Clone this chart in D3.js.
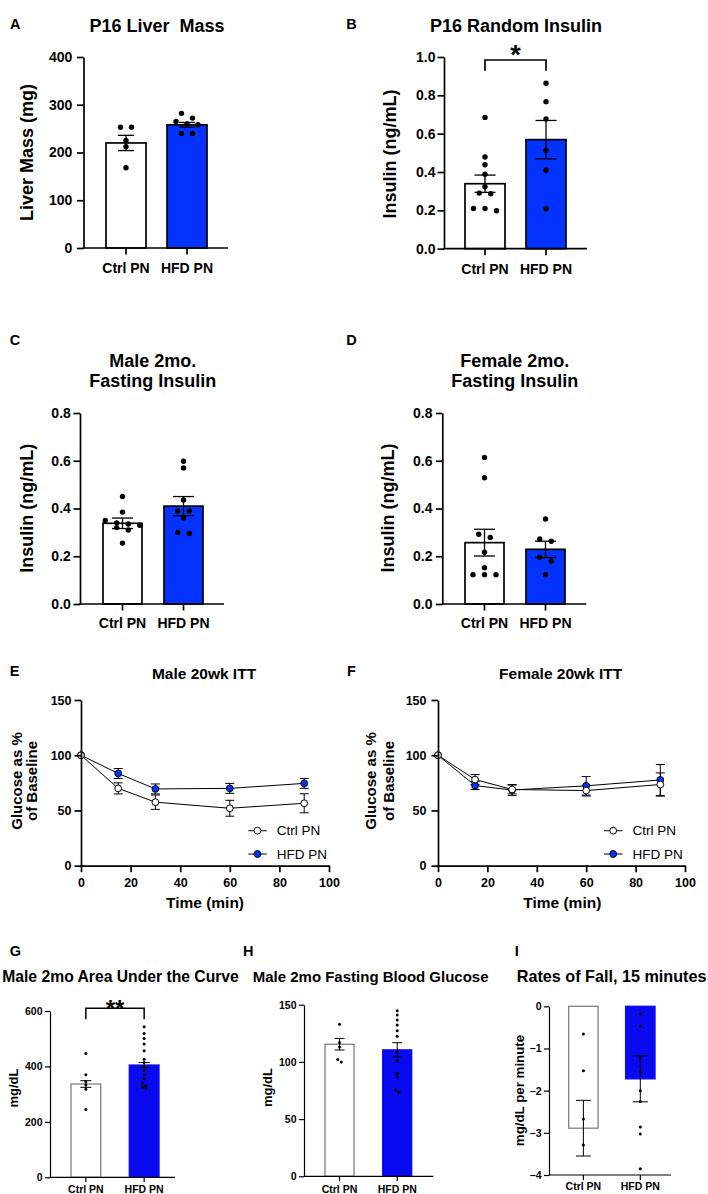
<!DOCTYPE html>
<html><head><meta charset="utf-8">
<script src="https://cdn.jsdelivr.net/npm/d3@7"></script>
<style>body{margin:0;background:#fff} svg text{font-family:"Liberation Sans",Arial,Helvetica,sans-serif;fill:#000}</style>
</head><body><svg id="fig" width="708" height="1194"></svg>
<script>
const groups = ["Ctrl PN", "HFD PN"];

// A: P16 liver mass
const liverTicks = [0, 100, 200, 300, 400];
const liverMean = [220, 258];
const liverSem = [16, 5];
const liverCtrl = [253, 253, 225, 212, 168];
const liverHfd = [282, 272, 265, 260, 258, 240, 240];

// B: P16 random insulin
const p16InsTicks = [0, 0.2, 0.4, 0.6, 0.8, 1.0];
const p16InsMean = [0.339, 0.569];
const p16InsSem = [0.045, 0.1];
const p16InsCtrl = [0.685, 0.478, 0.438, 0.388, 0.323, 0.29, 0.287, 0.21, 0.21, 0.198];
const p16InsHfd = [0.863, 0.767, 0.677, 0.513, 0.409, 0.209];

// C: male 2mo fasting insulin
const fastInsTicks = [0, 0.2, 0.4, 0.6, 0.8];
const maleInsMean = [0.338, 0.41];
const maleInsSem = [0.022, 0.04];
const maleInsCtrl = [0.45, 0.385, 0.35, 0.34, 0.335, 0.33, 0.32, 0.31, 0.255];
const maleInsHfd = [0.598, 0.57, 0.436, 0.39, 0.39, 0.36, 0.30, 0.295];

// D: female 2mo fasting insulin
const femInsMean = [0.257, 0.229];
const femInsSem = [0.056, 0.034];
const femInsCtrl = [0.614, 0.529, 0.292, 0.279, 0.217, 0.152, 0.123, 0.123, 0.123];
const femInsHfd = [0.356, 0.272, 0.263, 0.196, 0.18, 0.123];

// E/F: 20wk ITT
const ittTime = [0, 15, 30, 60, 90];
const ittXTicks = [0, 20, 40, 60, 80, 100];
const ittYTicks = [0, 50, 100, 150];
const maleIttCtrl = [100, 70, 57.5, 52, 56.5];
const maleIttCtrlSem = [0, 5, 6.5, 7.2, 8.6];
const maleIttHfd = [100, 83.5, 69.5, 70, 74.5];
const maleIttHfdSem = [0, 4.5, 4.5, 4.5, 4.5];
const femIttCtrl = [100, 78, 69, 68, 73.5];
const femIttCtrlSem = [0, 4.5, 4, 4.9, 10.5];
const femIttHfd = [100, 72.5, 68.5, 72.3, 77.6];
const femIttHfdSem = [0, 3.5, 5, 8.4, 14];

// G: male 2mo AUC
const aucTicks = [0, 200, 400, 600];
const aucMean = [336.6, 405];
const aucSem = [12, 9];
const aucCtrl = [447, 370, 345, 333, 318, 245];
const aucHfd = [543, 519, 501, 481, 457, 426, 414, 399, 385, 370, 356, 339, 330, 325, 321];

// H: male 2mo fasting blood glucose
const fbgTicks = [0, 50, 100, 150];
const fbgMean = [115.4, 110.5];
const fbgSem = [5, 6.3];
const fbgCtrl = [133, 117, 113, 102, 100];
const fbgHfd = [144.7, 141, 136.6, 132.2, 127.3, 122.4, 109, 101, 90, 87, 75.4, 73.4];

// I: rates of fall, 15 minutes
const rofTicks = [-4, -3, -2, -1, 0];
const rofMean = [-2.89, -1.72];
const rofSem = [0.66, 0.545];
const rofCtrl = [-0.656, -1.53, -2.67, -3.29];
const rofHfd = [-0.18, -0.47, -1.23, -1.55, -2.0, -2.26, -2.86, -3.03, -3.85];

const BLUE = "#0433ff";
const BLUE2 = "#0a0af0";

const svg = d3.select("#fig");
svg.append("rect").attr("width", 708).attr("height", 1194).attr("fill", "#fff");

function text(x, y, s, size, opt = {}) {
  const t = svg.append("text").attr("x", x).attr("y", y).text(s)
    .attr("font-size", size).attr("font-weight", opt.weight || "bold")
    .attr("text-anchor", opt.anchor || "middle")
    .style("white-space", "pre");
  return t;
}
function vtext(x, y, s, size) {
  return svg.append("text").attr("transform", `translate(${x},${y}) rotate(-90)`)
    .text(s).attr("font-size", size).attr("font-weight", "bold").attr("text-anchor", "middle");
}

function swarm(vals, y, r, spacing) {
  const pts = vals.map(v => ({ v, py: y(v) })).sort((a, b) => a.py - b.py);
  const rows = [];
  pts.forEach(p => {
    const last = rows[rows.length - 1];
    if (last && p.py - last[0].py < 2 * r * 1.02) last.push(p); else rows.push([p]);
  });
  rows.forEach(row => row.forEach((p, i) => p.dx = (i - (row.length - 1) / 2) * spacing));
  return pts;
}

function barPanel(o) {
  const g = svg.append("g");
  const y = d3.scaleLinear().domain([o.ticks[0], o.ticks[o.ticks.length - 1]]).range([o.yBottom, o.yTop]);
  const step = o.barRange[1] - o.barRange[0] - o.bw;
  const x = d3.scaleBand().domain(groups).range(o.barRange).paddingInner(1 - o.bw / step).paddingOuter(0);
  const cx = i => x(groups[i]) + x.bandwidth() / 2;
  o.means.forEach((m, i) => {
    const a = y(0), b = y(m);
    g.append("rect").attr("x", x(groups[i])).attr("y", Math.min(a, b))
      .attr("width", x.bandwidth()).attr("height", Math.abs(a - b))
      .attr("fill", i ? o.blue : "#fff")
      .attr("stroke", i ? o.hfdStroke : o.ctrlStroke).attr("stroke-width", o.barSW);
  });
  [o.ctrl, o.hfd].forEach((vals, i) => {
    swarm(vals, y, o.r, o.spacing).forEach(p =>
      g.append("circle").attr("cx", cx(i) + p.dx).attr("cy", p.py).attr("r", o.r).attr("fill", "#000"));
  });
  o.means.forEach((m, i) => {
    const hi = y(m + o.sems[i]), lo = y(m - o.sems[i]);
    g.append("line").attr("x1", cx(i)).attr("x2", cx(i)).attr("y1", hi).attr("y2", lo)
      .attr("stroke", "#000").attr("stroke-width", o.errSW);
    [hi, lo].forEach(yy => g.append("line").attr("x1", cx(i) - o.cap / 2).attr("x2", cx(i) + o.cap / 2)
      .attr("y1", yy).attr("y2", yy).attr("stroke", "#000").attr("stroke-width", o.errSW));
  });
  // y axis
  const ya = g.append("g").attr("transform", `translate(${o.axisX},0)`)
    .call(d3.axisLeft(y).tickValues(o.ticks).tickSize(o.tick).tickSizeOuter(0).tickPadding(o.yPad).tickFormat(o.fmt));
  ya.selectAll("path,line").attr("stroke", "#000").attr("stroke-width", o.axisSW);
  ya.selectAll("text").attr("font-size", o.tickFont).attr("font-weight", "bold").attr("fill", "#000")
    .attr("font-family", '"Liberation Sans",Arial,sans-serif');
  // x axis
  const xa = g.append("g").attr("transform", `translate(0,${o.yBottom})`)
    .call(d3.axisBottom(x).tickSize(o.tick).tickSizeOuter(0).tickPadding(o.xPad));
  xa.select(".domain").remove();
  xa.selectAll("line").attr("stroke", "#000").attr("stroke-width", o.axisSW);
  xa.selectAll("text").attr("font-size", o.xFont).attr("font-weight", "bold").attr("fill", "#000")
    .attr("font-family", '"Liberation Sans",Arial,sans-serif');
  g.append("line").attr("x1", o.axisX - o.axisSW / 2).attr("x2", o.axisEnd).attr("y1", o.yBottom).attr("y2", o.yBottom)
    .attr("stroke", "#000").attr("stroke-width", o.axisSW);
  if (o.sig) {
    const yb = o.sig.y, yd = o.sig.y + o.sig.drop;
    g.append("path").attr("d", `M${cx(0)},${yd}V${yb}H${cx(1)}V${yd}`)
      .attr("fill", "none").attr("stroke", "#000").attr("stroke-width", o.sig.sw);
    g.append("text").attr("x", (cx(0) + cx(1)) / 2).attr("y", o.sig.ty).attr("text-anchor", "middle")
      .attr("font-size", o.sig.size).attr("font-weight", "bold").text(o.sig.label);
  }
}

function linePanel(o) {
  const g = svg.append("g");
  const x = d3.scaleLinear().domain([0, 100]).range([o.axisX, o.axisEnd]);
  const y = d3.scaleLinear().domain([0, 150]).range([o.yBottom, o.yTop]);
  const series = [
    { v: o.hfd, s: o.hfdSem, fill: BLUE },
    { v: o.ctrl, s: o.ctrlSem, fill: "#fff" }
  ];
  series.forEach(se => {
    ittTime.forEach((t, i) => {
      if (!se.s[i]) return;
      const hi = y(se.v[i] + se.s[i]), lo = y(se.v[i] - se.s[i]);
      g.append("line").attr("x1", x(t)).attr("x2", x(t)).attr("y1", hi).attr("y2", lo).attr("stroke", "#000").attr("stroke-width", 1);
      [hi, lo].forEach(yy => g.append("line").attr("x1", x(t) - 4.5).attr("x2", x(t) + 4.5).attr("y1", yy).attr("y2", yy)
        .attr("stroke", "#000").attr("stroke-width", 1));
    });
  });
  const line = d3.line().x((d, i) => x(ittTime[i])).y(d => y(d));
  series.forEach(se => g.append("path").attr("d", line(se.v)).attr("fill", "none").attr("stroke", "#000").attr("stroke-width", 1));
  series.forEach(se => ittTime.forEach((t, i) =>
    g.append("circle").attr("cx", x(t)).attr("cy", y(se.v[i])).attr("r", 3.4)
      .attr("fill", se.fill).attr("stroke", "#000").attr("stroke-width", 1)));
  const ya = g.append("g").attr("transform", `translate(${o.axisX},0)`)
    .call(d3.axisLeft(y).tickValues(ittYTicks).tickSize(6.5).tickSizeOuter(0).tickPadding(o.yPad));
  const xa = g.append("g").attr("transform", `translate(0,${o.yBottom})`)
    .call(d3.axisBottom(x).tickValues(ittXTicks).tickSize(6.5).tickSizeOuter(0).tickPadding(6));
  [ya, xa].forEach(a => {
    a.selectAll("path,line").attr("stroke", "#000").attr("stroke-width", 1.7);
    a.selectAll("text").attr("font-size", 12.5).attr("font-weight", "bold").attr("fill", "#000")
      .attr("font-family", '"Liberation Sans",Arial,sans-serif');
  });
  // legend
  const leg = [{ name: "Ctrl PN", fill: "#fff", y: o.legY[0] }, { name: "HFD PN", fill: BLUE, y: o.legY[1] }];
  leg.forEach(l => {
    g.append("line").attr("x1", o.legX).attr("x2", o.legX + 18.5).attr("y1", l.y).attr("y2", l.y).attr("stroke", "#000").attr("stroke-width", 1);
    g.append("circle").attr("cx", o.legX + 9.2).attr("cy", l.y).attr("r", 3.4).attr("fill", l.fill).attr("stroke", "#000").attr("stroke-width", 1);
    g.append("text").attr("x", o.legX + 28.5).attr("y", l.y + 4.6).attr("font-size", 13.5).attr("font-weight", "normal").text(l.name);
  });
}

// ---------- Panel A ----------
text(15.3, 29, "A", 14.5);
text(157, 31.7, "P16 Liver  Mass", 18);
vtext(33, 152.5, "Liver Mass (mg)", 18);
barPanel({ ticks: liverTicks, means: liverMean, sems: liverSem, ctrl: liverCtrl, hfd: liverHfd,
  yBottom: 248, yTop: 57, axisX: 83.5, axisEnd: 228, barRange: [106, 207], bw: 40,
  blue: BLUE, ctrlStroke: "#000", hfdStroke: "#000", barSW: 1.7, r: 2.7, spacing: 11,
  cap: 16, errSW: 1.3, tick: 6.5, yPad: 4.7, xPad: 8.8, axisSW: 1.7, tickFont: 14, xFont: 14,
  fmt: d3.format("d") });

// ---------- Panel B ----------
text(351.5, 29, "B", 14.5);
text(516, 31.7, "P16 Random Insulin", 18);
vtext(395.5, 154, "Insulin (ng/mL)", 18);
barPanel({ ticks: p16InsTicks, means: p16InsMean, sems: p16InsSem, ctrl: p16InsCtrl, hfd: p16InsHfd,
  yBottom: 248.7, yTop: 57, axisX: 444, axisEnd: 587, barRange: [465, 566], bw: 40,
  blue: BLUE, ctrlStroke: "#000", hfdStroke: "#000", barSW: 1.7, r: 2.7, spacing: 11.5,
  cap: 21, errSW: 1.3, tick: 6.5, yPad: 2, xPad: 8.8, axisSW: 1.7, tickFont: 14, xFont: 14,
  fmt: d3.format(".1f"),
  sig: { y: 60, drop: 10.7, sw: 1.7, label: "*", size: 27, ty: 63.5 } });

// ---------- Panel C ----------
text(15, 345, "C", 14.5);
text(152.7, 366.7, "Male 2mo.", 18);
text(152.7, 387.3, "Fasting Insulin", 18);
vtext(32.7, 508.3, "Insulin (ng/mL)", 18);
barPanel({ ticks: fastInsTicks, means: maleInsMean, sems: maleInsSem, ctrl: maleInsCtrl, hfd: maleInsHfd,
  yBottom: 604, yTop: 413, axisX: 80, axisEnd: 224, barRange: [103, 203], bw: 39,
  blue: BLUE, ctrlStroke: "#000", hfdStroke: "#000", barSW: 1.7, r: 2.7, spacing: 11.5,
  cap: 21, errSW: 1.3, tick: 6.5, yPad: 2.7, xPad: 7.8, axisSW: 1.7, tickFont: 14, xFont: 14,
  fmt: d3.format(".1f") });

// ---------- Panel D ----------
text(351.5, 345, "D", 14.5);
text(514.7, 366.7, "Female 2mo.", 18);
text(514.7, 387.3, "Fasting Insulin", 18);
vtext(394, 508, "Insulin (ng/mL)", 18);
barPanel({ ticks: fastInsTicks, means: femInsMean, sems: femInsSem, ctrl: femInsCtrl, hfd: femInsHfd,
  yBottom: 604, yTop: 413, axisX: 442.3, axisEnd: 586.3, barRange: [465, 565], bw: 39,
  blue: BLUE, ctrlStroke: "#000", hfdStroke: "#000", barSW: 1.7, r: 2.7, spacing: 11.5,
  cap: 21, errSW: 1.3, tick: 6.5, yPad: 3.3, xPad: 7.8, axisSW: 1.7, tickFont: 14, xFont: 14,
  fmt: d3.format(".1f") });

// ---------- Panel E ----------
text(14.7, 676, "E", 14.5);
text(204, 679.3, "Male 20wk ITT", 15.5);
vtext(21.7, 781, "Glucose as %", 15);
vtext(36.7, 781, "of Baseline", 15);
text(205, 908, "Time (min)", 15.5);
linePanel({ ctrl: maleIttCtrl, ctrlSem: maleIttCtrlSem, hfd: maleIttHfd, hfdSem: maleIttHfdSem,
  axisX: 81, axisEnd: 329, yBottom: 865.7, yTop: 700, yPad: 3, legX: 248.3, legY: [830.7, 854] });

// ---------- Panel F ----------
text(351.5, 676, "F", 14.5);
text(560.7, 679.3, "Female 20wk ITT", 15.5);
vtext(375.7, 781, "Glucose as %", 15);
vtext(394, 781, "of Baseline", 15);
text(562.3, 908, "Time (min)", 15.5);
linePanel({ ctrl: femIttCtrl, ctrlSem: femIttCtrlSem, hfd: femIttHfd, hfdSem: femIttHfdSem,
  axisX: 438, axisEnd: 685, yBottom: 865.7, yTop: 700, yPad: 5, legX: 604, legY: [830.7, 854] });

// ---------- Panel G ----------
text(15.3, 956, "G", 14.5);
text(120.5, 981.7, "Male 2mo Area Under the Curve", 15.7);
vtext(18, 1088, "mg/dL", 13);
barPanel({ ticks: aucTicks, means: aucMean, sems: aucSem, ctrl: aucCtrl, hfd: aucHfd,
  yBottom: 1177.3, yTop: 1011, axisX: 50, axisEnd: 175, barRange: [71, 159], bw: 29.7,
  blue: BLUE2, ctrlStroke: "#808080", hfdStroke: BLUE2, barSW: 1.3, r: 1.5, spacing: 3.5,
  cap: 11, errSW: 1, tick: 5, yPad: 2.5, xPad: 3.5, axisSW: 1.2, tickFont: 10.5, xFont: 10.5,
  fmt: d3.format("d"),
  sig: { y: 1008.3, drop: 11, sw: 1.5, label: "**", size: 24, ty: 1017 } });

// ---------- Panel H ----------
text(248.3, 956, "H", 14.5);
text(252.7, 981.7, "Male 2mo Fasting Blood Glucose", 15, { anchor: "start" });
vtext(271.5, 1087.5, "mg/dL", 13);
barPanel({ ticks: fbgTicks, means: fbgMean, sems: fbgSem, ctrl: fbgCtrl, hfd: fbgHfd,
  yBottom: 1176.3, yTop: 1004.7, axisX: 304, axisEnd: 433.3, barRange: [325, 411.7], bw: 29,
  blue: BLUE2, ctrlStroke: "#808080", hfdStroke: BLUE2, barSW: 1.3, r: 1.5, spacing: 3.5,
  cap: 10, errSW: 1, tick: 5, yPad: 2.5, xPad: 4.3, axisSW: 1.2, tickFont: 10.5, xFont: 10.5,
  fmt: d3.format("d") });

// ---------- Panel I ----------
text(516.7, 956, "I", 14.5);
text(516.7, 981.7, "Rates of Fall, 15 minutes", 16.2, { anchor: "start" });
vtext(524, 1090.5, "mg/dL per minute", 13.3);
barPanel({ ticks: rofTicks, means: rofMean, sems: rofSem, ctrl: rofCtrl, hfd: rofHfd,
  yBottom: 1175, yTop: 1006.3, axisX: 549, axisEnd: 671, barRange: [568.7, 655], bw: 29.4,
  blue: BLUE2, ctrlStroke: "#808080", hfdStroke: BLUE2, barSW: 1.3, r: 1.5, spacing: 3.5,
  cap: 15, errSW: 1, tick: 5, yPad: 2.5, xPad: 2.7, axisSW: 1.2, tickFont: 10.5, xFont: 10.5,
  fmt: d3.format("d") });
</script>
</body></html>
